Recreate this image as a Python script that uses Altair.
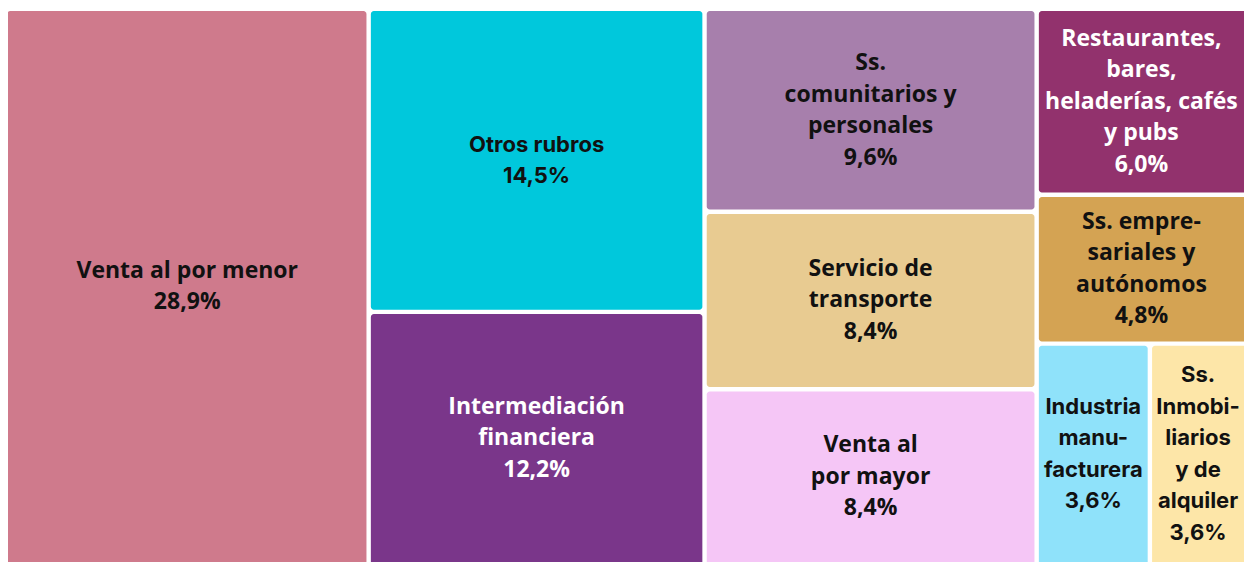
import altair as alt
import pandas as pd

# ---- data ------------------------------------------------------------------
categories = [
    "Venta al por menor",
    "Otros rubros",
    "Intermediación financiera",
    "Ss. comunitarios y personales",
    "Servicio de transporte",
    "Venta al por mayor",
    "Restaurantes, bares, heladerías, cafés y pubs",
    "Ss. empresariales y autónomos",
    "Industria manufacturera",
    "Ss. Inmobiliarios y de alquiler",
]
shares = [28.9, 14.5, 12.2, 9.6, 8.4, 8.4, 6.0, 4.8, 3.6, 3.6]
label_lines = [
    ["Venta al por menor"],
    ["Otros rubros"],
    ["Intermediación", "financiera"],
    ["Ss.", "comunitarios y", "personales"],
    ["Servicio de", "transporte"],
    ["Venta al", "por mayor"],
    ["Restaurantes,", "bares,", "heladerías, cafés", "y pubs"],
    ["Ss. empre-", "sariales y", "autónomos"],
    ["Industria", "manu-", "facturera"],
    ["Ss.", "Inmobi-", "liarios", "y de", "alquiler"],
]
palette = [
    "#CF7A8C", "#00C8DC", "#7A368A", "#A77FAC", "#E8CB91",
    "#F5C6F6", "#92326D", "#D4A353", "#8FE2FA", "#FDE6A8",
]
light_text = ["Intermediación financiera", "Restaurantes, bares, heladerías, cafés y pubs"]
narrow_font = ["Otros rubros", "Industria manufacturera", "Ss. Inmobiliarios y de alquiler"]

# ---- layout parameters -----------------------------------------------------
PLOT_W, PLOT_H = 1236, 554          # visible drawing area (fits the page body)
TX0, TY0, TW, TH = -2.9, 0.8, 1258, 558   # treemap extent (runs past the edges)
GAP = 4.4
LINE_H = 31.5
EPS = 1e-6   # shares are rounded; ties in the split go to the later node


def binary_treemap(values, x0, y0, x1, y1):
    """d3.treemapBinary tiling."""
    n = len(values)
    sums = [0.0]
    for v in values:
        sums.append(sums[-1] + v)
    out = [None] * n

    def part(i, j, value, x0, y0, x1, y1):
        if i >= j - 1:
            out[i] = (x0, y0, x1, y1)
            return
        offset = sums[i]
        target = value / 2 + offset
        k, hi = i + 1, j - 1
        while k < hi:
            mid = (k + hi) >> 1
            if sums[mid] < target:
                k = mid + 1
            else:
                hi = mid
        if (target - sums[k - 1]) < (sums[k] - target) - EPS and i + 1 < k:
            k -= 1
        vl = sums[k] - offset
        vr = value - vl
        if (x1 - x0) > (y1 - y0):
            xk = (x0 * vr + x1 * vl) / value
            part(i, k, vl, x0, y0, xk, y1)
            part(k, j, vr, xk, y0, x1, y1)
        else:
            yk = (y0 * vr + y1 * vl) / value
            part(i, k, vl, x0, y0, x1, yk)
            part(k, j, vr, x0, yk, x1, y1)

    part(0, n, sums[n], x0, y0, x1, y1)
    return out


cells = binary_treemap(shares, TX0, TY0, TX0 + TW, TY0 + TH)
rows = []
for cat, val, lines, (a, b, c, d) in zip(categories, shares, label_lines, cells):
    x0, y0, x1, y1 = a + GAP / 2, b + GAP / 2, c - GAP / 2, d - GAP / 2
    vx0, vx1 = max(x0, 0), min(x1, PLOT_W)
    vy0, vy1 = max(y0, 0), min(y1, PLOT_H)
    pct = f"{val:.1f}".replace(".", ",") + "%"
    all_lines = lines + [pct]
    rows.append(dict(
        cat=cat, x0=x0, x1=x1, y0=y0, y1=y1,
        cx=(vx0 + vx1) / 2,
        cy=(vy0 + vy1) / 2 - (len(all_lines) - 1) * LINE_H / 2,
        label="\n".join(all_lines),
    ))
df = pd.DataFrame(rows)

xs = alt.Scale(domain=[0, PLOT_W], nice=False, zero=False)
ys = alt.Scale(domain=[0, PLOT_H], nice=False, zero=False, reverse=True)

base = alt.Chart(df)

rects = base.mark_rect(cornerRadius=3).encode(
    x=alt.X("x0:Q", scale=xs, axis=None),
    x2="x1:Q",
    y=alt.Y("y0:Q", scale=ys, axis=None),
    y2="y1:Q",
    color=alt.Color("cat:N", scale=alt.Scale(domain=categories, range=palette), legend=None),
)

text_color = alt.condition(
    alt.FieldOneOfPredicate(field="cat", oneOf=light_text),
    alt.value("#FFFFFF"),
    alt.value("#111111"),
)


def labels(font, size, keep):
    pred = alt.FieldOneOfPredicate(field="cat", oneOf=narrow_font)
    flt = pred if keep else ~pred
    return base.transform_filter(flt).mark_text(
        font=font, fontSize=size, fontWeight="bold", lineBreak="\n",
        lineHeight=LINE_H, align="center", baseline="middle",
    ).encode(
        x=alt.X("cx:Q", scale=xs, axis=None),
        y=alt.Y("cy:Q", scale=ys, axis=None),
        text="label:N",
        color=text_color,
    )


chart = alt.layer(
    rects, labels("Open Sans", 23, False), labels("Inter", 22, True)
).properties(
    width=PLOT_W, height=PLOT_H, padding=0,
    autosize=alt.AutoSizeParams(type="none"),
    background="#FFFFFF",
).configure_view(stroke=None)

chart.save("out.html", embed_options={"renderer": "svg", "actions": False})
